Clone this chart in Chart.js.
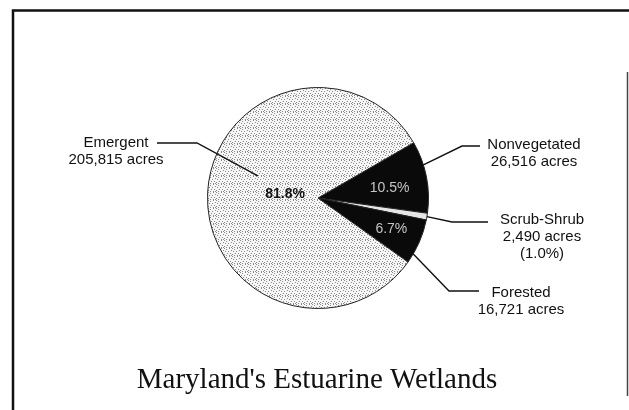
<!DOCTYPE html>
<html>
<head>
<meta charset="utf-8">
<script src="https://cdn.jsdelivr.net/npm/chart.js@4"></script>
<style>
html,body{margin:0;padding:0;background:#fff;}
#wrap{position:relative;width:629px;height:410px;}
</style>
</head>
<body>
<div id="wrap"><canvas id="c" width="629" height="410"></canvas></div>
<script>
// ---- data ----
const categories = ['Nonvegetated', 'Scrub-Shrub', 'Forested', 'Emergent'];
const acres = [26516, 2490, 16721, 205815];
const acreLabels = ['26,516 acres', '2,490 acres', '16,721 acres', '205,815 acres'];
const percentLabels = ['10.5%', '1.0%', '6.7%', '81.8%'];
const chartTitle = "Maryland's Estuarine Wetlands";

// stipple pattern for the Emergent slice
function stipple() {
  const p = document.createElement('canvas');
  p.width = 8; p.height = 8;
  const g = p.getContext('2d');
  g.fillStyle = '#f6f6f6';
  g.fillRect(0, 0, 8, 8);
  g.fillStyle = '#8a8a8a';
  const dots = [[0,0],[2,1],[5,0],[7,2],[1,3],[4,3],[6,5],[3,5],[0,6],[5,7],[2,7],[7,7]];
  dots.forEach(d => g.fillRect(d[0], d[1], 1, 1));
  return g.createPattern(p, 'repeat');
}
const emergentFill = stipple();

const annot = {
  id: 'annot',
  afterDraw(chart) {
    const ctx = chart.ctx;
    const arcs = chart.getDatasetMeta(0).data;
    function pt(i, frac, rfrac) {
      const a = arcs[i];
      const ang = a.startAngle + (a.endAngle - a.startAngle) * frac;
      const r = a.outerRadius * rfrac;
      return [a.x + Math.cos(ang) * r, a.y + Math.sin(ang) * r];
    }
    ctx.save();
    // frame
    ctx.strokeStyle = '#111';
    ctx.lineWidth = 2.5;
    ctx.beginPath();
    ctx.moveTo(13, 410); ctx.lineTo(13, 10.5); ctx.lineTo(629, 10.5);
    ctx.stroke();
    ctx.lineWidth = 1.5;
    ctx.strokeStyle = '#444';
    ctx.beginPath();
    ctx.moveTo(627.5, 72); ctx.lineTo(627.5, 396);
    ctx.stroke();

    // leader lines
    ctx.strokeStyle = '#111';
    ctx.lineWidth = 1.4;
    const leaders = [
      [0, [480, 146], [462, 146], pt(0, 0.33, 1.0)],
      [1, [488, 222], [452, 222], pt(1, 0.5, 1.0)],
      [2, [479, 291], [449, 291], pt(2, 0.79, 1.0)],
      [3, [157, 143], [197, 143], pt(3, 0.559, 0.58)]
    ];
    leaders.forEach(l => {
      ctx.beginPath();
      ctx.moveTo(l[1][0], l[1][1]);
      ctx.lineTo(l[2][0], l[2][1]);
      ctx.lineTo(l[3][0], l[3][1]);
      ctx.stroke();
    });

    // outside labels
    ctx.fillStyle = '#111';
    ctx.font = '15px "Liberation Sans", Arial, sans-serif';
    ctx.textAlign = 'center';
    ctx.textBaseline = 'middle';
    const blocks = [
      [534, 145, [categories[0], acreLabels[0]]],
      [542, 220, [categories[1], acreLabels[1], '(' + percentLabels[1] + ')']],
      [521, 293, [categories[2], acreLabels[2]]],
      [116, 143, [categories[3], acreLabels[3]]]
    ];
    blocks.forEach(b => {
      b[2].forEach((t, k) => ctx.fillText(t, b[0], b[1] + k * 16.8));
    });

    // inside percentages
    const p0 = pt(0, 0.58, 0.655);
    const p2 = pt(2, 0.47, 0.72);
    const p3 = pt(3, 0.515, 0.3);
    ctx.font = '14px "Liberation Sans", Arial, sans-serif';
    ctx.fillStyle = '#c4c4c4';
    ctx.fillText(percentLabels[0], p0[0], p0[1]);
    ctx.fillText(percentLabels[2], p2[0], p2[1]);
    ctx.font = 'bold 14px "Liberation Sans", Arial, sans-serif';
    ctx.fillStyle = '#111';
    ctx.fillText(percentLabels[3], p3[0], p3[1]);

    // title
    ctx.font = '29px "Liberation Serif", "Times New Roman", serif';
    ctx.fillStyle = '#111';
    ctx.fillText(chartTitle, 317, 380);
    ctx.restore();
  }
};

new Chart(document.getElementById('c'), {
  type: 'pie',
  data: {
    labels: categories,
    datasets: [{
      data: acres,
      backgroundColor: ['#0a0a0a', '#e6e6e6', '#0a0a0a', emergentFill],
      borderColor: '#222',
      borderWidth: 1
    }]
  },
  options: {
    responsive: false,
    animation: false,
    rotation: 60,
    layout: { padding: { left: 207, right: 200, top: 87, bottom: 101 } },
    plugins: {
      legend: { display: false },
      title: { display: false },
      tooltip: { enabled: false }
    }
  },
  plugins: [annot]
});
</script>
</body>
</html>
